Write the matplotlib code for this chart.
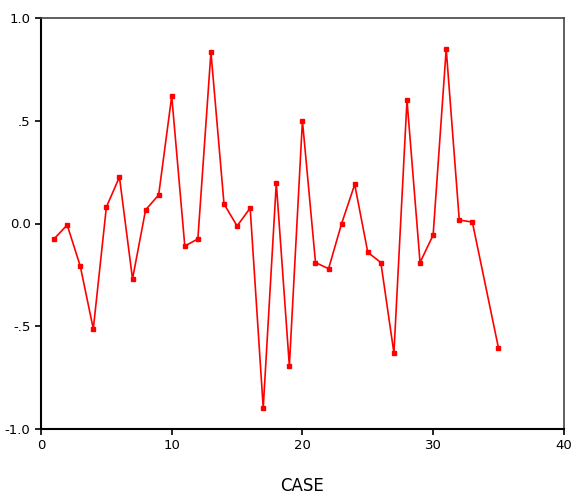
import matplotlib
matplotlib.use("Agg")
import matplotlib.pyplot as plt

cases = [1, 2, 3, 4, 5, 6, 7, 8, 9, 10, 11, 12, 13, 14, 15, 16, 17, 18,
         19, 20, 21, 22, 23, 24, 25, 26, 27, 28, 29, 30, 31, 32, 33, 35]
valores = [-0.075, -0.007, -0.207, -0.513, 0.08, 0.226, -0.27, 0.066, 0.139,
           0.62, -0.11, -0.075, 0.834, 0.095, -0.012, 0.075, -0.898, 0.197,
           -0.693, 0.50, -0.19, -0.22, 0.0, 0.19, -0.14, -0.19, -0.63, 0.60,
           -0.19, -0.056, 0.849, 0.017, 0.007, -0.606]

yticks = [-1.0, -0.5, 0.0, 0.5, 1.0]
ytick_labels = ["-1.0", "-.5", "0.0", ".5", "1.0"]
xticks = [0, 10, 20, 30, 40]

fig = plt.figure(figsize=(5.73, 5.0), dpi=100)
ax = fig.add_axes([0.0716, 0.142, 0.9124, 0.822])

ax.plot(cases, valores, color="#ff0000", linewidth=1.2, marker="s",
        markersize=3)

ax.set_xlim(0, 40)
ax.set_ylim(-1.0, 1.0)
ax.set_xticks(xticks)
ax.set_yticks(yticks)
ax.set_yticklabels(ytick_labels)
ax.tick_params(labelsize=9.5, length=4, width=1.2, color="black")
ax.set_xlabel("CASE", fontsize=12, labelpad=18)

for lado in ["left", "bottom"]:
    ax.spines[lado].set_color("black")
    ax.spines[lado].set_linewidth(1.5)
for lado in ["top", "right"]:
    ax.spines[lado].set_color("#444444")
    ax.spines[lado].set_linewidth(1.2)

fig.savefig("out.png", dpi=100)
